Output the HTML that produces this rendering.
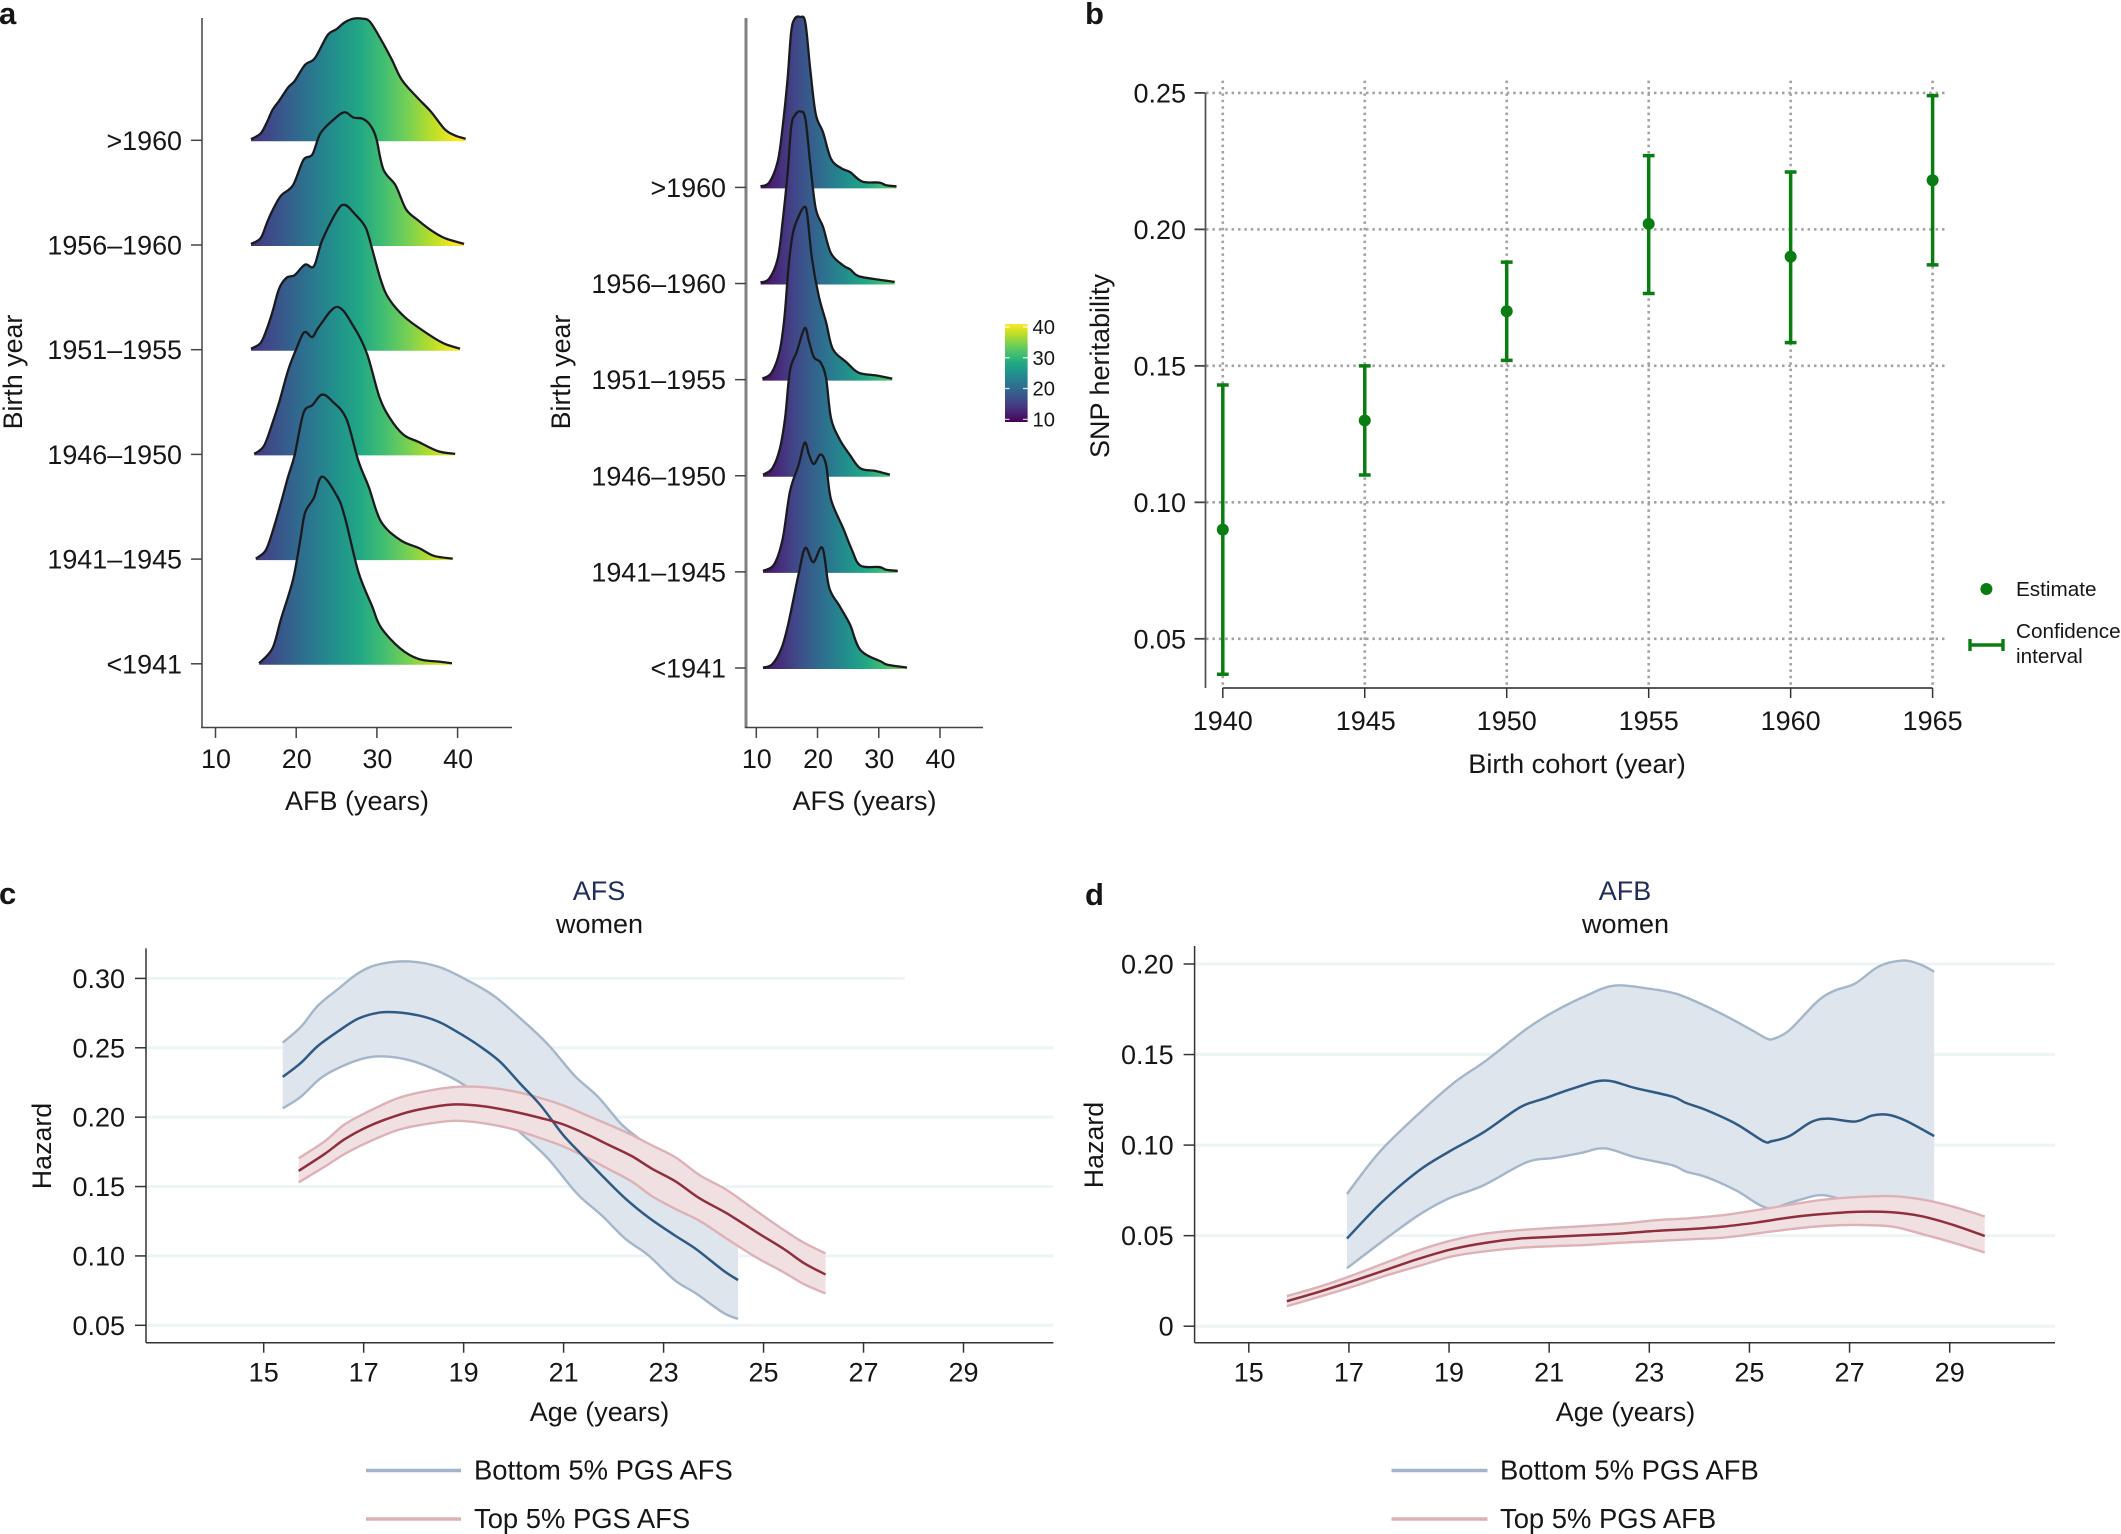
<!DOCTYPE html>
<html lang="en">
<head>
<meta charset="utf-8">
<title>Birth cohort, heritability and hazard charts</title>
<style>
html,body{margin:0;padding:0;background:#fff;}
svg{display:block;font-family:"Liberation Sans",Arial,sans-serif;}
text{fill:#161616;}
</style>
</head>
<body>
<svg id="fig" xmlns="http://www.w3.org/2000/svg" width="2121" height="1534" viewBox="0 0 2121 1534">
  <defs id="defs"></defs>
  <g font-weight="700" font-size="31">
    <text x="-1" y="24">a</text>
    <text x="1085" y="24">b</text>
    <text x="-1" y="904">c</text>
    <text x="1085" y="905">d</text>
  </g>
  <g id="panelA1">
    <text transform="translate(22,372) rotate(-90)" text-anchor="middle" font-size="26.8">Birth year</text>
    <text x="357" y="810" text-anchor="middle" font-size="27">AFB (years)</text>
  </g>
  <g id="panelA2">
    <text transform="translate(570,372) rotate(-90)" text-anchor="middle" font-size="26.8">Birth year</text>
    <text x="864.5" y="810" text-anchor="middle" font-size="27">AFS (years)</text>
  </g>
  <g id="colorbar"></g>
  <g id="panelB">
    <text transform="translate(1109,366) rotate(-90)" text-anchor="middle" font-size="27">SNP heritability</text>
    <text x="1577" y="773" text-anchor="middle" font-size="27.2">Birth cohort (year)</text>
    <circle cx="1986.4" cy="589" r="6" fill="#0a7d12"/>
    <text x="2016" y="596" font-size="20.7">Estimate</text>
    <path d="M1970 645H2003M1970 639V651M2003 639V651" stroke="#0a7d12" stroke-width="3.4" fill="none"/>
    <text x="2016" y="638" font-size="20.7">Confidence</text>
    <text x="2016" y="663" font-size="20.7">interval</text>
  </g>
  <g id="panelC">
    <text x="599" y="900" text-anchor="middle" font-size="27" style="fill:#1f2d5c">AFS</text>
    <text x="599.5" y="933" text-anchor="middle" font-size="27">women</text>
    <text transform="translate(51,1146) rotate(-90)" text-anchor="middle" font-size="26.8">Hazard</text>
    <text x="599.5" y="1421" text-anchor="middle" font-size="27">Age (years)</text>
    <line x1="366" x2="461" y1="1470.5" y2="1470.5" stroke="#a3b5ca" stroke-width="3.5"/>
    <text x="474" y="1479.5" font-size="27.4">Bottom 5% PGS AFS</text>
    <line x1="366" x2="461" y1="1519" y2="1519" stroke="#dcb1b5" stroke-width="3.5"/>
    <text x="474" y="1528" font-size="27.4">Top 5% PGS AFS</text>
  </g>
  <g id="panelD">
    <text x="1625" y="900" text-anchor="middle" font-size="27" style="fill:#1f2d5c">AFB</text>
    <text x="1625.5" y="933" text-anchor="middle" font-size="27">women</text>
    <text transform="translate(1103,1145) rotate(-90)" text-anchor="middle" font-size="26.8">Hazard</text>
    <text x="1625.5" y="1421" text-anchor="middle" font-size="27">Age (years)</text>
    <line x1="1391.5" x2="1487.5" y1="1470.5" y2="1470.5" stroke="#a3b5ca" stroke-width="3.5"/>
    <text x="1500" y="1479.5" font-size="27.4">Bottom 5% PGS AFB</text>
    <line x1="1391.5" x2="1487.5" y1="1519" y2="1519" stroke="#dcb1b5" stroke-width="3.5"/>
    <text x="1500" y="1528" font-size="27.4">Top 5% PGS AFB</text>
  </g>
</svg>
<script>
// ---------- Panel a data ----------
const ridgeCategories = ['>1960','1956–1960','1951–1955','1946–1950','1941–1945','<1941'];
const ridgeTicks = [10,20,30,40];
const colorbarTicks = [40,30,20,10];

const afbAges1 = [14.4,15.6,16.4,17.05,17.9,19.0,19.8,21.1,22.3,23.9,25.0,26.0,27.1,28.2,29.1,30.3,31.8,33.1,35.0,36.7,38.4,39.7,41.0];
const afbDens1 = [.01,.066,.177,.288,.379,.505,.566,.722,.783,1.005,1.061,1.126,1.162,1.162,1.136,.99,.778,.576,.409,.273,.106,.045,.015];
const afbAges2 = [14.4,15.6,16.4,17.05,18.1,19.6,20.9,22.0,23.0,24.7,26.0,27.1,28.2,29.1,29.9,30.8,32.3,33.6,35.0,36.7,38.4,40.8];
const afbDens2 = [.01,.066,.217,.328,.47,.571,.813,.864,1.066,1.202,1.268,1.217,1.207,1.152,1.025,.722,.571,.343,.242,.141,.066,.01];
const afbAges3 = [14.4,15.6,16.4,17.05,17.9,18.8,19.8,21.1,22.2,23.2,25.0,26.0,27.3,28.6,29.4,30.5,31.5,33.5,36.5,38.4,40.3];
const afbDens3 = [.01,.066,.207,.359,.586,.687,.712,.813,.798,1.04,1.318,1.384,1.293,1.167,.965,.662,.485,.308,.141,.056,.01];
const afbAges4 = [14.8,16.0,17.05,17.9,19.0,20.0,21.0,22.0,22.8,25.1,27.3,28.8,30.3,31.6,33.3,35.2,37.6,39.7];
const afbDens4 = [.005,.081,.298,.5,.803,1.005,1.167,1.121,1.217,1.409,1.197,.955,.551,.348,.188,.118,.03,.005];
const afbAges5 = [15.0,16.2,17.05,18.1,19.0,19.8,20.9,22.0,23.2,24.5,26.2,27.7,29.0,30.5,32.9,35.2,37.1,39.4];
const afbDens5 = [.005,.081,.258,.535,.788,.99,1.394,1.47,1.571,1.505,1.343,.939,.687,.359,.182,.106,.03,.005];
const afbAges6 = [15.4,17.05,18.1,19.6,20.5,21.1,22.2,23.2,25.0,26.0,27.7,29.4,30.5,32.9,35.2,37.8,39.3];
const afbDens6 = [.005,.146,.424,.803,1.182,1.444,1.586,1.788,1.611,1.409,.879,.551,.348,.146,.045,.02,.005];

const afsAges1 = [10.7,12.1,13.5,14.3,15.1,15.7,16.3,17.15,18.0,18.8,19.7,20.9,22.2,23.9,25.3,27.3,30.1,31.2,32.9];
const afsDens1 = [.011,.05,.27,.628,1.123,1.619,1.757,1.773,1.718,1.234,.765,.573,.297,.198,.16,.061,.05,.022,.011];
const afsAges2 = [10.7,12.1,13.5,14.3,15.1,15.7,16.3,17.15,18.0,18.8,19.7,20.9,22.2,24.2,25.3,26.7,30.1,32.6];
const afsDens2 = [.011,.05,.259,.644,1.14,1.63,1.75,1.79,1.718,1.25,.782,.589,.314,.187,.149,.077,.039,.017];
const afsAges3 = [11.0,12.5,13.8,14.6,15.3,16.0,16.9,17.8,18.3,19.1,20.2,21.4,22.5,24.7,26.7,29.5,32.2];
const afsDens3 = [.011,.072,.292,.65,1.2,1.531,1.696,1.795,1.723,1.255,.87,.595,.319,.182,.072,.044,.011];
const afsAges4 = [11.1,12.6,13.8,14.7,15.5,16.6,17.9,18.6,19.4,20.5,21.4,22.2,23.6,25.3,27.0,29.5,31.8];
const afsDens4 = [.011,.077,.27,.6,1.096,1.288,1.536,1.399,1.233,1.178,1.013,.6,.38,.215,.077,.05,.011];
const afsAges5 = [11.1,12.9,14.3,15.5,16.9,17.9,18.6,19.4,20.5,21.4,22.2,24.2,25.6,27.0,30.1,31.2,33.1];
const afsDens5 = [.011,.077,.341,.837,1.112,1.344,1.222,1.123,1.222,1.112,.754,.452,.231,.066,.05,.022,.011];
const afsAges6 = [11.1,12.6,14.1,15.2,16.9,18.0,19.3,20.8,21.9,23.6,25.3,27.0,30.4,31.5,34.6];
const afsDens6 = [.005,.039,.204,.452,.974,1.25,1.101,1.25,.837,.644,.452,.187,.066,.033,.005];

// ---------- Panel b data ----------
const cohortYears = [1940,1945,1950,1955,1960,1965];
const heritabilityEstimate = [.09,.13,.17,.202,.19,.218];
const heritabilityLow = [.037,.11,.152,.1765,.1585,.187];
const heritabilityHigh = [.143,.15,.188,.227,.221,.249];
const heritabilityTicks = [.05,.10,.15,.20,.25];

// ---------- Panel c data ----------
const ageTicks = [15,17,19,21,23,25,27,29];
const afsHazardTicks = [.05,.10,.15,.20,.25,.30];
const afsBottomUpperAge = [15.38,15.74,16.08,16.49,16.89,17.30,17.91,18.51,19.05,19.59,20.14,20.68,21.22,21.69,22.16,22.57,23.11,23.78,24.49];
const afsBottomUpper = [.2537,.2649,.2802,.2924,.3037,.3101,.3122,.3082,.2991,.2878,.2710,.2527,.2299,.2146,.1948,.1826,.1643,.1369,.1095];
const afsBottomMeanAge = [15.38,15.74,16.08,16.49,16.89,17.30,17.64,18.11,18.51,18.92,19.32,19.73,20.14,20.54,20.99,21.35,21.76,22.23,22.70,23.22,23.65,24.19,24.49];
const afsBottomMean = [.2290,.2390,.2512,.2619,.2710,.2753,.2756,.2732,.2686,.2604,.2512,.2399,.2238,.2085,.1872,.1735,.1582,.1415,.1277,.1149,.1049,.0896,.0826];
const afsBottomLowerAge = [15.38,15.74,16.15,16.62,17.09,17.5,17.97,18.51,19.05,19.59,20.14,20.68,21.28,21.76,22.23,22.70,23.22,23.65,24.19,24.49];
const afsBottomLower = [.2064,.2146,.2284,.2375,.2430,.2436,.2405,.2329,.2223,.2070,.1887,.1704,.1445,.1293,.1125,.1003,.0826,.0729,.0591,.0546];
const afsTopAge = [15.70,16.22,16.62,17.09,17.64,18.11,18.78,19.39,20.0,20.54,20.99,21.49,21.89,22.36,22.77,23.24,23.72,24.26,24.86,25.41,25.81,26.24];
const afsTopMean = [.1613,.1735,.1841,.1933,.2009,.2055,.2091,.2079,.2040,.1994,.1948,.1872,.1802,.1720,.1628,.1537,.1415,.1308,.1171,.1049,.0948,.0866];
const afsTopUpper = [.1704,.1826,.1948,.2040,.2131,.2177,.2216,.2216,.2186,.2137,.2085,.2009,.1948,.1872,.1796,.1710,.1582,.1476,.1323,.1186,.1095,.1018];
const afsTopLower = [.1530,.1643,.1735,.1820,.1902,.1942,.1973,.1957,.1912,.1848,.1790,.1704,.1628,.1537,.1430,.1338,.1253,.1125,.0988,.0881,.0796,.0729];

// ---------- Panel d data ----------
const afbHazardTicks = [0,.05,.10,.15,.20];
const afbBottomUpperAge = [16.96,17.58,18.26,19.07,19.74,20.55,21.09,21.77,22.31,22.99,23.53,24.07,24.61,25.08,25.35,25.49,25.80,26.36,26.70,27.11,27.58,28.05,28.39,28.69];
const afbBottomUpper = [.0730,.0952,.1139,.1338,.1467,.1642,.1736,.1829,.1881,.1864,.1836,.1775,.1701,.1630,.1588,.1588,.1635,.1794,.1853,.1892,.1986,.2019,.2000,.1958];
const afbBottomMeanAge = [16.96,17.65,18.39,19.0,19.68,20.42,20.89,21.5,22.11,22.72,23.46,23.73,24.14,24.74,25.28,25.45,25.8,26.23,26.57,27.11,27.45,27.78,28.12,28.69];
const afbBottomMean = [.0484,.0683,.0858,.0964,.1069,.1209,.1256,.1315,.1357,.1315,.1268,.1233,.1193,.1116,.1022,.1022,.1050,.1127,.1146,.1130,.1163,.1167,.1135,.1050];
const afbBottomLowerAge = [16.96,17.65,18.39,19.0,19.68,20.55,21.09,21.64,22.11,22.72,23.46,23.73,24.14,24.74,25.35,25.82,26.36,26.7,27.11,27.58,28.69];
const afbBottomLower = [.0320,.0465,.0613,.0706,.0777,.0905,.0929,.0957,.0982,.0933,.0889,.0854,.0823,.0749,.0653,.0683,.0723,.0711,.0671,.0648,.0578];
const afbTopAge = [15.76,16.43,17.04,17.72,18.39,19.07,19.74,20.42,21.09,21.77,22.45,23.12,23.80,24.47,25.15,25.82,26.5,27.18,27.85,28.46,29.07,29.7];
const afbTopMean = [.0138,.0192,.0246,.0309,.0372,.0426,.0461,.0484,.0494,.0503,.0512,.0526,.0536,.0550,.0573,.0601,.0620,.0632,.0629,.0606,.0559,.0498];
const afbTopUpper = [.0166,.0220,.0278,.0349,.0419,.0475,.0512,.0531,.0543,.0554,.0566,.0585,.0596,.0613,.0641,.0671,.0699,.0714,.0718,.0699,.0660,.0606];
const afbTopLower = [.0110,.0164,.0215,.0278,.0332,.0386,.0414,.0433,.0442,.0449,.0461,.0470,.0480,.0489,.0512,.0536,.0554,.0559,.0550,.0508,.0461,.0407];

const viridis = ['#440154','#482475','#414487','#355f8d','#2a788e','#21918c','#22a884','#44bf70','#7ad151','#bddf26','#fde725'];

// ---------- Helpers ----------
const NS = 'http://www.w3.org/2000/svg';
function mk(tag, attrs, parent, txt) {
  const n = document.createElementNS(NS, tag);
  for (const k in attrs) n.setAttribute(k, attrs[k]);
  if (txt !== undefined) n.textContent = txt;
  parent.appendChild(n);
  return n;
}
function lin(d0, r0, d1, r1) {
  return function (v) { return r0 + (v - d0) * (r1 - r0) / (d1 - d0); };
}
function segs(p, move) {
  let d = (move ? 'M' : 'L') + p[0][0].toFixed(2) + ' ' + p[0][1].toFixed(2);
  for (let i = 0; i < p.length - 1; i++) {
    const a = p[Math.max(i - 1, 0)], b = p[i], c = p[i + 1], e = p[Math.min(i + 2, p.length - 1)];
    d += 'C' + (b[0] + (c[0] - a[0]) / 6).toFixed(2) + ' ' + (b[1] + (c[1] - a[1]) / 6).toFixed(2) + ' ' +
      (c[0] - (e[0] - b[0]) / 6).toFixed(2) + ' ' + (c[1] - (e[1] - b[1]) / 6).toFixed(2) + ' ' +
      c[0].toFixed(2) + ' ' + c[1].toFixed(2);
  }
  return d;
}
function zip(xs, ys, fx, fy) {
  return xs.map(function (x, i) { return [fx(x), fy(ys[i])]; });
}
const defs = document.getElementById('defs');

// ---------- Ridgeline panels ----------
function drawRidges(cfg) {
  const g = document.getElementById(cfg.id);
  const xS = lin(10, cfg.x10, 40, cfg.x40);
  const base = function (i) { return cfg.base0 + i * cfg.step; };

  const grad = mk('linearGradient', { id: cfg.key + '-grad', gradientUnits: 'userSpaceOnUse', x1: xS(10), x2: xS(40), y1: 0, y2: 0 }, defs);
  viridis.forEach(function (c, i) { mk('stop', { offset: i / 10, 'stop-color': c }, grad); });

  cfg.ages.forEach(function (ages, i) {
    const dens = cfg.dens[i];
    const b = base(i);
    const yS = function (h) { return b - h * cfg.step; };
    const pts = zip(ages, dens, xS, yS);
    const rg = mk('g', {}, g);
    
    
    const fill = mk('path', { d: segs(pts, true) + 'L' + pts[pts.length - 1][0] + ' ' + (b + 1) + 'L' + pts[0][0] + ' ' + (b + 1) + 'Z', fill: 'url(#' + cfg.key + '-grad)' }, rg);
    
    
    const line = mk('path', { d: segs(pts, true), fill: 'none', stroke: '#1b1b1f', 'stroke-width': 2.3, 'stroke-linejoin': 'round' }, rg);
    
    
  });

  const yAxis = mk('line', { x1: cfg.axisX, x2: cfg.axisX, y1: 18, y2: 728, stroke: cfg.axisColor, 'stroke-width': cfg.axisW }, g);
  
  
  const xAxis = mk('line', { x1: cfg.axisX - 1, x2: cfg.axisEnd, y1: 727.5, y2: 727.5, stroke: '#444', 'stroke-width': 1.5 }, g);
  
  

  ridgeCategories.forEach(function (c, i) {
    const t = mk('line', { x1: cfg.axisX - 11, x2: cfg.axisX, y1: base(i), y2: base(i), stroke: '#444', 'stroke-width': 1.5 }, g);
    
    
    const l = mk('text', { x: cfg.axisX - 20, y: base(i) + 9.5, 'text-anchor': 'end', 'font-size': 26.9 }, g, c);
    
    
  });
  ridgeTicks.forEach(function (v) {
    const t = mk('line', { x1: xS(v), x2: xS(v), y1: 727.5, y2: 738, stroke: '#444', 'stroke-width': 1.5 }, g);
    
    
    const l = mk('text', { x: xS(v) + 0.5, y: 768, 'text-anchor': 'middle', 'font-size': 26.9 }, g, String(v));
    
    
  });
}
drawRidges({ id: 'panelA1', key: 'afb', x10: 215.5, x40: 457.6, base0: 140.3, step: 104.7, axisX: 202, axisEnd: 512, axisColor: '#444', axisW: 1.5,
  ages: [afbAges1, afbAges2, afbAges3, afbAges4, afbAges5, afbAges6], dens: [afbDens1, afbDens2, afbDens3, afbDens4, afbDens5, afbDens6] });
drawRidges({ id: 'panelA2', key: 'afs', x10: 756.3, x40: 940, base0: 187.4, step: 96.12, axisX: 746, axisEnd: 983, axisColor: '#808080', axisW: 3,
  ages: [afsAges1, afsAges2, afsAges3, afsAges4, afsAges5, afsAges6], dens: [afsDens1, afsDens2, afsDens3, afsDens4, afsDens5, afsDens6] });

// ---------- Colour bar ----------
(function () {
  const g = document.getElementById('colorbar');
  const yS = lin(10, 419.3, 40, 327);
  const grad = mk('linearGradient', { id: 'cbar-grad', x1: 0, x2: 0, y1: 1, y2: 0 }, defs);
  viridis.forEach(function (c, i) { mk('stop', { offset: i / 10, 'stop-color': c }, grad); });
  const bar = mk('rect', { x: 1005, y: 324, width: 22.6, height: 98, fill: 'url(#cbar-grad)' }, g);
  
  
  colorbarTicks.forEach(function (v) {
    const t = mk('path', { d: 'M1005 ' + yS(v) + 'h4.5M1023 ' + yS(v) + 'h4.6', stroke: '#fff', 'stroke-width': 1.2, fill: 'none', opacity: .85 }, g);
    
    
    const l = mk('text', { x: 1032.5, y: yS(v) + 7, 'font-size': 20.2 }, g, String(v));
    
    
  });
})();

// ---------- Panel b ----------
(function () {
  const g = document.getElementById('panelB');
  const xS = lin(1940, 1222.8, 1965, 1932.6);
  const yS = lin(.05, 638.8, .25, 92.9);
  const green = '#0a7d12';
  heritabilityTicks.forEach(function (v) {
    const gl = mk('line', { x1: 1206, x2: 1946.6, y1: yS(v), y2: yS(v), stroke: '#a2a2a2', 'stroke-width': 2.6, 'stroke-dasharray': '2.5 3.9' }, g);
    
    
    const t = mk('line', { x1: 1194.5, x2: 1205.5, y1: yS(v), y2: yS(v), stroke: '#444', 'stroke-width': 1.8 }, g);
    
    
    const l = mk('text', { x: 1186, y: yS(v) + 9.5, 'text-anchor': 'end', 'font-size': 27 }, g, v.toFixed(2));
    
    
  });
  const ya = mk('line', { x1: 1205.5, x2: 1205.5, y1: yS(.25), y2: 688, stroke: '#555', 'stroke-width': 1.8 }, g);
  
  
  const xa = mk('line', { x1: xS(1940), x2: xS(1965), y1: 688, y2: 688, stroke: '#222', 'stroke-width': 1.5 }, g);
  
  
  cohortYears.forEach(function (yr, i) {
    const gl = mk('line', { x1: xS(yr), x2: xS(yr), y1: 80.6, y2: 688, stroke: '#a2a2a2', 'stroke-width': 2.6, 'stroke-dasharray': '2.5 3.9' }, g);
    
    
    const t = mk('line', { x1: xS(yr), x2: xS(yr), y1: 688, y2: 698, stroke: '#333', 'stroke-width': 1.5 }, g);
    
    
    const l = mk('text', { x: xS(yr) + (yr === 1945 ? 1 : 0), y: 730, 'text-anchor': 'middle', 'font-size': 27 }, g, String(yr));
    
    
  });
  cohortYears.forEach(function (yr, i) {
    const x = xS(yr), lo = yS(heritabilityLow[i]), hi = yS(heritabilityHigh[i]);
    const ci = mk('path', { d: 'M' + x + ' ' + lo + 'V' + hi + 'M' + (x - 5.9) + ' ' + lo + 'h11.8M' + (x - 5.9) + ' ' + hi + 'h11.8', stroke: green, 'stroke-width': 3.5, fill: 'none' }, g);
    
    
    const p = mk('circle', { cx: x, cy: yS(heritabilityEstimate[i]), r: 6, fill: green }, g);
    
    
  });
})();

// ---------- Hazard panels ----------
function drawHazard(cfg) {
  const g = document.getElementById(cfg.id);
  const xS = lin(15, cfg.x15, 29, cfg.x29);
  const yS = lin(cfg.v0, cfg.y0, cfg.v1, cfg.y1);
  const axisBottom = 1342.7;

  cfg.yTicks.forEach(function (v) {
    const end = (cfg.key === 'afs' && v === .30) ? 904.7 : cfg.xEnd;
    const gl = mk('line', { x1: cfg.axisX, x2: end, y1: yS(v), y2: yS(v), stroke: '#edf4f6', 'stroke-width': 3 }, g);
    
    
    const t = mk('line', { x1: cfg.axisX - 11, x2: cfg.axisX, y1: yS(v), y2: yS(v), stroke: '#333', 'stroke-width': 1.5 }, g);
    
    
    const l = mk('text', { x: cfg.axisX - 21, y: yS(v) + 9.5, 'text-anchor': 'end', 'font-size': 27 }, g, v === 0 ? '0' : v.toFixed(2));
    
    
  });
  ageTicks.forEach(function (a) {
    const t = mk('line', { x1: xS(a), x2: xS(a), y1: axisBottom, y2: axisBottom + 10, stroke: '#333', 'stroke-width': 1.5 }, g);
    
    
    const l = mk('text', { x: xS(a), y: 1381.5, 'text-anchor': 'middle', 'font-size': 27 }, g, String(a));
    
    
  });

  const bu = zip(cfg.bUA, cfg.bU, xS, yS), bm = zip(cfg.bMA, cfg.bM, xS, yS), bl = zip(cfg.bLA, cfg.bL, xS, yS);
  const tu = zip(cfg.tA, cfg.tU, xS, yS), tm = zip(cfg.tA, cfg.tM, xS, yS), tl = zip(cfg.tA, cfg.tL, xS, yS);

  const bBand = mk('path', { d: segs(bu, true) + segs(bl.slice().reverse(), false) + 'Z', fill: '#dfe5ec' }, g);
  
  
  const bEdgeU = mk('path', { d: segs(bu, true), fill: 'none', stroke: '#a3b6ca', 'stroke-width': 2.4 }, g);
  
  
  const bEdgeL = mk('path', { d: segs(bl, true), fill: 'none', stroke: '#a3b6ca', 'stroke-width': 2.4 }, g);
  
  

  const tBand = mk('path', { d: segs(tu, true) + segs(tl.slice().reverse(), false) + 'Z', fill: '#f1e0e2' }, g);
  
  
  const tEdgeU = mk('path', { d: segs(tu, true), fill: 'none', stroke: '#dcb2b6', 'stroke-width': 2.4 }, g);
  
  
  const tEdgeL = mk('path', { d: segs(tl, true), fill: 'none', stroke: '#dcb2b6', 'stroke-width': 2.4 }, g);
  
  

  const bMean = mk('path', { d: segs(bm, true), fill: 'none', stroke: '#2f5a84', 'stroke-width': 2.5 }, g);
  
  
  const tMean = mk('path', { d: segs(tm, true), fill: 'none', stroke: '#8f2f3d', 'stroke-width': 2.5 }, g);
  
  

  const ya = mk('line', { x1: cfg.axisX, x2: cfg.axisX, y1: cfg.axisTop, y2: axisBottom, stroke: '#333', 'stroke-width': 1.5 }, g);
  
  
  const xa = mk('line', { x1: cfg.axisX, x2: cfg.xEnd, y1: axisBottom, y2: axisBottom, stroke: '#333', 'stroke-width': 1.5 }, g);
  
  
}
drawHazard({ id: 'panelC', key: 'afs', x15: 263.7, x29: 963.5, v0: .05, y0: 1325.3, v1: .30, y1: 978.4, axisX: 146, axisTop: 948.4, xEnd: 1053.4, yTicks: afsHazardTicks,
  bUA: afsBottomUpperAge, bU: afsBottomUpper, bMA: afsBottomMeanAge, bM: afsBottomMean, bLA: afsBottomLowerAge, bL: afsBottomLower,
  tA: afsTopAge, tU: afsTopUpper, tM: afsTopMean, tL: afsTopLower });
drawHazard({ id: 'panelD', key: 'afb', x15: 1248.8, x29: 1949.7, v0: 0, y0: 1326.2, v1: .20, y1: 964, axisX: 1194.6, axisTop: 946, xEnd: 2055, yTicks: afbHazardTicks,
  bUA: afbBottomUpperAge, bU: afbBottomUpper, bMA: afbBottomMeanAge, bM: afbBottomMean, bLA: afbBottomLowerAge, bL: afbBottomLower,
  tA: afbTopAge, tU: afbTopUpper, tM: afbTopMean, tL: afbTopLower });
</script>
</body>
</html>
